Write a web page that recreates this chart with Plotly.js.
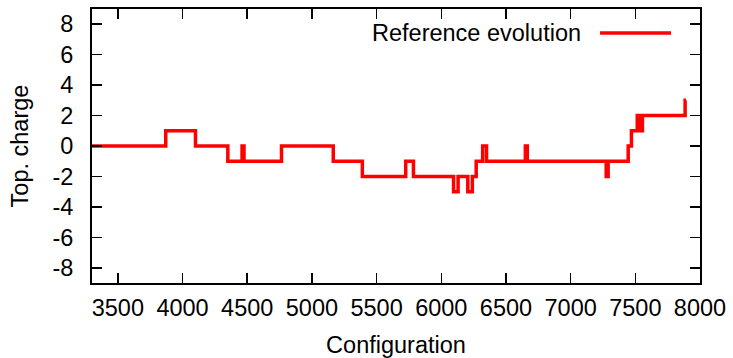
<!DOCTYPE html>
<html>
<head>
<meta charset="utf-8">
<script src="https://cdn.plot.ly/plotly-3.0.1.min.js"></script>
<style>html,body{margin:0;padding:0;background:#fff;}#chart{width:733px;height:358px;}</style>
</head>
<body>
<div id="chart"></div>
<script>
// Change points of the topological charge (step-wise, held until next point)
const configurations = [3300, 3870, 4100, 4350, 4460, 4475, 4765, 5165, 5390, 5725, 5785, 6095, 6130, 6205, 6240, 6270, 6320, 6350, 6650, 6665, 7275, 7290, 7445, 7470, 7515, 7525, 7540, 7548, 7555, 7885, 7892];
const charges        = [0,    1,    0,    -1,   0,    -1,   0,    -1,   -2,   -1,   -2,   -3,   -2,   -3,   -2,   -1,   0,    -1,   0,    -1,   -2,   -1,   0,    1,    2,    1,    2,    1,    2,    3,    3];
const seriesName = "Reference evolution";
const xTicks = [3500, 4000, 4500, 5000, 5500, 6000, 6500, 7000, 7500, 8000];
const yTicks = [-8, -6, -4, -2, 0, 2, 4, 6, 8];

const font = {family: "Liberation Sans, Arial, sans-serif", size: 23.5, color: "#000"};

const trace = {
  x: configurations, y: charges, name: seriesName,
  mode: "lines", line: {color: "#ff0000", width: 3.5, shape: "hv"},
  showlegend: false
};

const axisCommon = {
  showline: true, linecolor: "#000", linewidth: 2, mirror: "ticks",
  ticks: "inside", ticklen: 10, tickwidth: 1.5, tickcolor: "#000",
  showgrid: false, zeroline: false, tickfont: font
};

const layout = {
  width: 733, height: 358,
  margin: {l: 92, r: 33, t: 9, b: 75},
  paper_bgcolor: "#fff", plot_bgcolor: "#fff",
  font: font,
  xaxis: Object.assign({}, axisCommon, {
    range: [3300, 8000], tickvals: xTicks, ticktext: xTicks.map(String),
    ticklabelstandoff: 3,
    title: {text: "Configuration", font: font, standoff: 16}
  }),
  yaxis: Object.assign({}, axisCommon, {
    range: [-9, 9], tickvals: yTicks, ticktext: yTicks.map(String),
    ticklabelstandoff: 12,
    title: {text: "Top. charge", font: font, standoff: 17}
  }),
  annotations: [{
    xref: "paper", yref: "paper", x: 0.8077, y: 0.912,
    xanchor: "right", yanchor: "middle", showarrow: false,
    text: seriesName, font: font
  }],
  shapes: [{
    type: "line", xref: "paper", yref: "paper",
    x0: 0.8356, x1: 0.9523, y0: 0.912, y1: 0.912,
    line: {color: "#ff0000", width: 3.5}
  }]
};

Plotly.newPlot("chart", [trace], layout, {staticPlot: true, displayModeBar: false});
</script>
</body>
</html>
